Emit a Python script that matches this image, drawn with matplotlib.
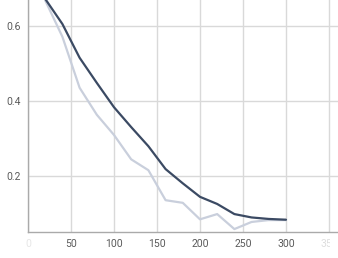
import matplotlib
matplotlib.use("Agg")
import matplotlib.pyplot as plt
from matplotlib.transforms import Bbox

x = [20, 40, 60, 80, 100, 120, 140, 160, 180, 200, 220, 240, 260, 280, 300]
dark = [0.672, 0.605, 0.515, 0.448, 0.383, 0.330, 0.279, 0.218, 0.180, 0.144, 0.125, 0.098, 0.089, 0.085, 0.083]
light = [0.668, 0.571, 0.435, 0.363, 0.309, 0.244, 0.215, 0.135, 0.128, 0.084, 0.098, 0.058, 0.077, 0.082, 0.082]
xticks = [0, 50, 100, 150, 200, 250, 300, 350]
yticks = [0.2, 0.4, 0.6]

W, H = 338, 258
fig = plt.figure(figsize=(W / 100, H / 100), dpi=100)
left = 28 / W
bottom = 1 - 231.7 / H
ax = fig.add_axes([left, bottom, 1 - left, 1 - bottom])
ax.set_xlim(0, 360.5)
ax.set_ylim(0.051, 0.669)

ax.plot(x, light, color="#c9cfdc", lw=1.6, solid_capstyle="round", zorder=3)
ax.plot(x, dark, color="#3b4a63", lw=1.6, solid_capstyle="round", zorder=4)

ax.set_xticks(xticks)
ax.set_yticks(yticks)
ax.set_xticklabels([str(t) for t in xticks])
ax.set_yticklabels([f"{t:.1f}" for t in yticks])
ax.grid(True, color="#d9d9d9", lw=1.0)
ax.set_axisbelow(True)
for s in ["top", "right"]:
    ax.spines[s].set_visible(False)
for s in ["left", "bottom"]:
    ax.spines[s].set_color("#aaaaaa")
    ax.spines[s].set_linewidth(1.0)
ax.tick_params(length=0, labelsize=7.5, labelcolor="#5a5a5a", pad=5)
for lab in ax.get_xticklabels():
    lab.set_fontfamily("Roboto")
for lab in ax.get_yticklabels():
    lab.set_fontfamily("Roboto")
xl = ax.get_xticklabels()
xl[0].set_alpha(0.15)
xl[-1].set_alpha(0.2)
xl[-1].set_clip_box(Bbox.from_extents(0, 0, 330, H))
xl[-1].set_clip_on(True)

fig.savefig("out.png", dpi=100)
